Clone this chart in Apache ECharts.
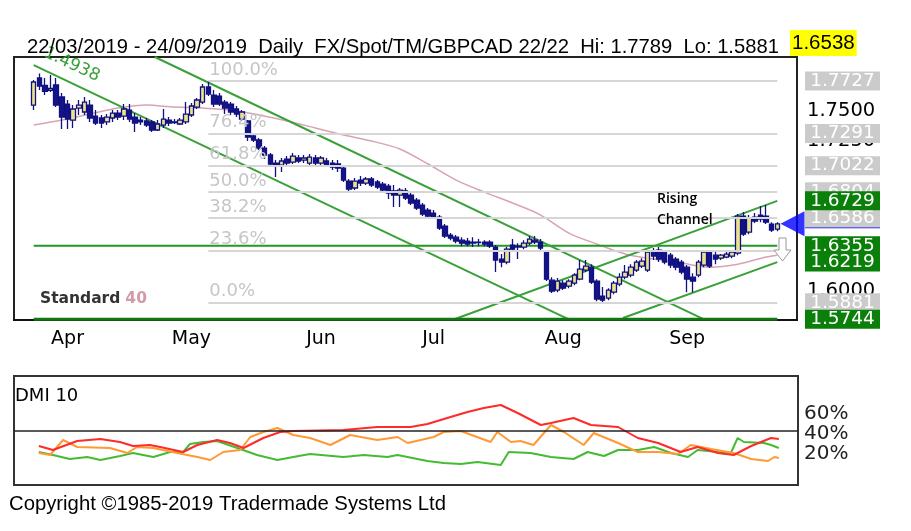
<!DOCTYPE html>
<html><head><meta charset="utf-8">
<script src="https://cdn.jsdelivr.net/npm/echarts@6/dist/echarts.min.js"></script>
<style>html,body{margin:0;padding:0;background:#fff}#c{width:911px;height:531px}</style>
</head><body><div id="c"></div><script>
// ---------- data ----------
const startDate = '2019-03-22', endDate = '2019-09-24';
const padBefore = 3, padAfter = 3;
const monthNames = ['Jan','Feb','Mar','Apr','May','Jun','Jul','Aug','Sep','Oct','Nov','Dec'];
// [open, close, low, high]
const ohlc = [
[1.7527,1.7719,1.7485,1.7735],[1.7752,1.7685,1.7652,1.7789],[1.7690,1.7640,1.7610,1.7752],[1.7650,1.7665,1.7635,1.7777],
[1.7694,1.7527,1.7510,1.7752],[1.7594,1.7427,1.7327,1.7627],[1.7535,1.7410,1.7327,1.7569],[1.7402,1.7494,1.7336,1.7527],
[1.7502,1.7527,1.7444,1.7569],[1.7469,1.7552,1.7444,1.7594],[1.7527,1.7419,1.7386,1.7569],[1.7435,1.7377,1.7360,1.7485],
[1.7419,1.7377,1.7336,1.7444],[1.7386,1.7427,1.7360,1.7452],[1.7419,1.7460,1.7386,1.7485],[1.7460,1.7427,1.7402,1.7485],
[1.7435,1.7494,1.7402,1.7535],[1.7485,1.7410,1.7386,1.7535],[1.7427,1.7377,1.7302,1.7460],[1.7402,1.7386,1.7360,1.7427],
[1.7394,1.7360,1.7344,1.7419],[1.7386,1.7319,1.7302,1.7402],[1.7319,1.7369,1.7311,1.7402],[1.7360,1.7410,1.7336,1.7494],
[1.7402,1.7377,1.7352,1.7427],[1.7386,1.7381,1.7369,1.7411],[1.7369,1.7402,1.7360,1.7419],[1.7386,1.7452,1.7369,1.7552],
[1.7444,1.7519,1.7427,1.7544],[1.7510,1.7569,1.7494,1.7585],[1.7552,1.7677,1.7535,1.7702],[1.7677,1.7619,1.7602,1.7727],
[1.7610,1.7535,1.7510,1.7652],[1.7602,1.7535,1.7519,1.7627],[1.7552,1.7502,1.7452,1.7569],[1.7535,1.7469,1.7444,1.7552],
[1.7494,1.7452,1.7427,1.7519],[1.7410,1.7469,1.7394,1.7485],[1.7394,1.7261,1.7227,1.7402],[1.7269,1.7236,1.7219,1.7294],
[1.7236,1.7169,1.7152,1.7252],[1.7169,1.7111,1.7077,1.7186],[1.7111,1.7036,1.7019,1.7127],[1.7044,1.7027,1.6927,1.7069],
[1.7027,1.7061,1.6969,1.7086],[1.7077,1.7044,1.7027,1.7102],[1.7052,1.7102,1.7036,1.7127],[1.7086,1.7061,1.7044,1.7111],
[1.7069,1.7086,1.7044,1.7111],[1.7044,1.7094,1.7019,1.7119],[1.7086,1.7044,1.7027,1.7111],[1.7044,1.7086,1.7019,1.7102],
[1.7061,1.7027,1.7011,1.7086],[1.7044,1.7011,1.6986,1.7069],[1.7036,1.7002,1.6969,1.7069],[1.7002,1.6902,1.6886,1.7019],
[1.6894,1.6827,1.6811,1.6911],[1.6836,1.6894,1.6819,1.6919],[1.6902,1.6877,1.6852,1.6936],[1.6877,1.6911,1.6861,1.6927],
[1.6911,1.6861,1.6844,1.6927],[1.6886,1.6844,1.6827,1.6902],[1.6869,1.6819,1.6802,1.6886],[1.6852,1.6794,1.6744,1.6869],
[1.6811,1.6777,1.6677,1.6861],[1.6777,1.6819,1.6677,1.6836],[1.6811,1.6752,1.6736,1.6836],[1.6777,1.6711,1.6694,1.6794],
[1.6736,1.6669,1.6652,1.6752],[1.6694,1.6619,1.6602,1.6711],[1.6652,1.6602,1.6586,1.6669],[1.6627,1.6594,1.6577,1.6652],
[1.6594,1.6502,1.6486,1.6611],[1.6519,1.6436,1.6419,1.6536],[1.6444,1.6419,1.6402,1.6461],[1.6427,1.6394,1.6377,1.6444],
[1.6402,1.6377,1.6352,1.6427],[1.6394,1.6369,1.6352,1.6419],[1.6377,1.6386,1.6344,1.6427],[1.6386,1.6382,1.6352,1.6411],
[1.6386,1.6369,1.6352,1.6402],[1.6386,1.6352,1.6336,1.6402],[1.6344,1.6236,1.6136,1.6361],[1.6244,1.6219,1.6177,1.6286],
[1.6219,1.6327,1.6202,1.6344],[1.6361,1.6327,1.6319,1.6411],[1.6352,1.6344,1.6244,1.6377],[1.6344,1.6377,1.6327,1.6402],
[1.6377,1.6411,1.6361,1.6436],[1.6402,1.6386,1.6369,1.6436],[1.6386,1.6336,1.6319,1.6411],[1.6302,1.6077,1.6061,1.6319],
[1.6069,1.5977,1.5961,1.6094],[1.5986,1.6061,1.5969,1.6086],[1.6044,1.6002,1.5986,1.6069],[1.6019,1.6061,1.6002,1.6077],
[1.6044,1.6111,1.6027,1.6127],[1.6077,1.6161,1.6069,1.6236],[1.6152,1.6186,1.6136,1.6236],[1.6177,1.6052,1.6036,1.6202],
[1.6061,1.5911,1.5894,1.6077],[1.5936,1.5902,1.5881,1.6011],[1.5919,1.5986,1.5902,1.6002],[1.5969,1.6044,1.5952,1.6061],
[1.6036,1.6094,1.6019,1.6127],[1.6094,1.6136,1.6077,1.6194],[1.6111,1.6177,1.6094,1.6202],[1.6152,1.6219,1.6136,1.6236],
[1.6186,1.6227,1.6169,1.6252],[1.6152,1.6302,1.6136,1.6319],[1.6302,1.6269,1.6236,1.6336],[1.6319,1.6244,1.6219,1.6344],
[1.6302,1.6219,1.6202,1.6319],[1.6277,1.6194,1.6169,1.6294],[1.6244,1.6177,1.6152,1.6261],[1.6219,1.6136,1.6119,1.6236],
[1.6177,1.6077,1.5969,1.6194],[1.6094,1.6061,1.5969,1.6127],[1.6111,1.6219,1.6094,1.6236],[1.6194,1.6302,1.6177,1.6319],
[1.6302,1.6186,1.6169,1.6319],[1.6277,1.6244,1.6202,1.6311],[1.6252,1.6277,1.6236,1.6286],[1.6261,1.6286,1.6252,1.6311],
[1.6269,1.6302,1.6252,1.6319],[1.6294,1.6602,1.6277,1.6619],[1.6602,1.6452,1.6436,1.6636],[1.6469,1.6586,1.6452,1.6611],
[1.6594,1.6561,1.6544,1.6627],[1.6611,1.6577,1.6552,1.6686],[1.6602,1.6552,1.6536,1.6694],[1.6536,1.6486,1.6469,1.6552],
[1.6494,1.6538,1.6477,1.6552]
];
// 40-day moving average, read at sampled bars [barIndex, value]
const ma40 = [[0,1.7360],[5,1.7402],[10,1.7452],[15,1.7502],[20,1.7527],[25,1.7510],[30,1.7502],[35,1.7485],
[40,1.7444],[45,1.7394],[50,1.7336],[55,1.7277],[60,1.7227],[65,1.7161],[70,1.7036],[75,1.6902],[80,1.6802],
[85,1.6711],[90,1.6611],[95,1.6461],[100,1.6369],[105,1.6286],[110,1.6244],[115,1.6211],[120,1.6177],
[125,1.6202],[130,1.6262],[132,1.6277]];
const fibLevels = [1.7727,1.7291,1.7022,1.6804,1.6586,1.6317,1.5881];
const fibNames = ['100.0%','76.4%','61.8%','50.0%','38.2%','23.6%','0.0%'];
const fibStart = 31, fibEnd = 132;
const descUpper = [[21.5,1.7927],[118.8,1.5746]];
const descLower = [[0,1.7860],[94.9,1.5745]];
const riseUpper = [[74.8,1.5745],[132,1.6729]];
const riseLower = [[104.6,1.5754],[132,1.6219]];
const supportLine = [[0,1.6355],[132,1.6355]];
const baseLine = [[0,1.5744],[132,1.5744]];
const descLabel = '1.4938';
const priceTicks = [1.6, 1.725, 1.75];
const greyTags = [1.7727,1.7291,1.7022,1.6804,1.6586,1.5881];
const greenTags = [1.6729,1.6355,1.6219,1.5744];
const lastPrice = 1.6538;
const dmiRed = [[0.9,25],[3.4,21],[7.7,30],[11.8,32],[15.3,29],[17.6,25],[20.6,26],[22.4,24],[26.5,19],[29,26],
[32.5,31],[34.8,28],[37.2,23],[40.7,33],[43.7,39],[46,40],[54.9,41],[60.9,44],[66.8,44],[69.8,47],[73.9,54],
[75.7,57],[76.9,59],[79.8,63],[82.8,66],[85.8,58],[89.9,46],[91.7,48],[95.7,53],[98.8,46],[103.6,44],[107.1,33],
[110.7,28],[114.7,19],[117.7,24],[121.3,18],[124.1,16],[127.2,25],[130.7,33],[132.1,32]];
const dmiOrange = [[0.9,18],[2.9,16],[5.2,31],[7.7,24],[13.5,23],[16.6,18],[18.3,24],[21.2,23],[25.4,18],[29,14],
[31.3,11],[33.6,19],[36.6,21],[38.4,34],[40.7,39],[43.2,43],[46,36],[49,33],[52.6,26],[56.1,36],[60.9,31],[64.5,34],
[66.3,28],[70.9,34],[72.7,39],[75.7,40],[81,29],[82.2,39],[84.6,29],[86.3,30],[88.6,26],[91.7,46],[94,39],[97.5,26],
[99.3,38],[103.6,28],[107.1,19],[110.7,19],[114.2,17],[116.5,26],[120.1,22],[124.1,18],[127.2,12],[130.2,10],
[131.3,14],[132.1,13]];
const dmiGreen = [[0.9,19],[3.4,16],[6.4,12],[9.5,14],[11.8,11],[15.3,15],[17.6,18],[21.2,14],[24.2,19],[26.5,19],
[27.7,27],[30.1,29],[32.5,30],[36.1,23],[39.6,16],[43.2,11],[46,14],[49,17],[54.9,14],[58.5,16],[62.7,14],[64.5,16],
[69.8,10],[72.7,8],[75.7,7],[78.7,9],[82.8,6],[84.2,19],[88.1,18],[91.7,14],[95.7,12],[98.2,19],[101.1,15],[103.6,21],
[107.1,21],[110,24],[113,18],[116,14],[117.7,21],[121.3,19],[123.6,18],[124.8,33],[125.9,29],[129.5,28],[130.7,26],
[132.1,23]];
const dmiTicks = [20, 40, 60];
const dmiLevel = 40;
const titleText = '22/03/2019 - 24/09/2019  Daily  FX/Spot/TM/GBPCAD 22/22  Hi: 1.7789  Lo: 1.5881';
const copyright = 'Copyright \u00a91985-2019 Tradermade Systems Ltd';

// ---------- build ----------
const dates = [];
for (let d = new Date(startDate + 'T00:00:00Z'); d <= new Date(endDate + 'T00:00:00Z'); d.setUTCDate(d.getUTCDate() + 1)) {
  const w = d.getUTCDay(); if (w !== 0 && w !== 6) dates.push(new Date(d));
}
const cats = [], monthStart = [];
for (let k = 0; k < padBefore; k++) { cats.push('pre' + k); monthStart.push(false); }
dates.forEach((d, i) => {
  cats.push(d.toISOString().slice(0, 10));
  monthStart.push(i > 0 && d.getUTCMonth() !== dates[i - 1].getUTCMonth());
});
for (let k = 0; k < padAfter; k++) { cats.push('post' + k); monthStart.push(false); }
const candleData = [];
for (let k = 0; k < padBefore; k++) candleData.push('-');
ohlc.forEach(r => candleData.push(r));
for (let k = 0; k < padAfter; k++) candleData.push('-');
const xMin = -padBefore - 0.5, xMax = ohlc.length - 1 + padAfter + 0.5;

const yMin = 1.5737, yMax = 1.7927;
const isIn = (arr, v) => arr.some(a => Math.abs(a - v) < 1e-7);
const FONT = 'DejaVu Sans';
const green = '#3aa03a';

const chart = echarts.init(document.getElementById('c'), null, {renderer: 'canvas'});
const trend = (data, color, w) => ({
  type: 'line', xAxisIndex: 1, yAxisIndex: 0, data, symbol: 'none', silent: true,
  lineStyle: {color: color || green, width: w || 2}, clip: true, animation: false, z: 3
});
chart.setOption({
  animation: false,
  backgroundColor: '#fff',
  title: [
    {text: titleText, left: 22, top: 32, textStyle: {fontFamily: 'Liberation Sans', fontSize: 20.2, fontWeight: 'normal', color: '#000'}},
    {text: lastPrice.toFixed(4), left: 790, top: 30, backgroundColor: '#ffff00', padding: [3, 2, 2, 2],
     textStyle: {fontFamily: 'Liberation Sans', fontSize: 20.5, fontWeight: 'normal', color: '#000'}},
    {text: copyright, left: 4, top: 489, textStyle: {fontFamily: 'Liberation Sans', fontSize: 20.3, fontWeight: 'normal', color: '#000'}},
    {text: 'DMI 10', left: 10, top: 382, textStyle: {fontFamily: FONT, fontSize: 18, fontWeight: 'normal', color: '#000'}},
    {text: 'Rising\nChannel', left: 652, top: 184, textStyle: {fontFamily: 'Open Sans', fontSize: 14, fontWeight: 600, color: '#000', lineHeight: 21}},
    {text: '{a|Standard} {b|40}', left: 35, top: 285, textStyle: {rich: {
      a: {fontFamily: FONT, fontSize: 15.5, fontWeight: 'bold', color: '#333'},
      b: {fontFamily: FONT, fontSize: 15.5, color: '#d49aa8'}}}}
  ],
  graphic: [
    {type: 'text', x: 45, y: 52, rotation: -0.44, silent: true,
     style: {text: descLabel, fill: green, font: '17px "DejaVu Sans"', textVerticalAlign: 'middle'}},
    {type: 'polygon', silent: true, z: 20,
     shape: {points: [[779,238],[786,238],[786,250],[791,250],[782.5,261],[774,250],[779,250]]},
     style: {fill: '#fff', stroke: '#999', lineWidth: 1}}
  ],
  grid: [
    {left: 14, right: 114, top: 57, height: 263, show: true, borderColor: '#222', borderWidth: 2, backgroundColor: 'transparent'},
    {left: 14, right: 113, top: 376, height: 109, show: true, borderColor: '#333', borderWidth: 2, backgroundColor: 'transparent'}
  ],
  xAxis: [
    {type: 'category', gridIndex: 0, data: cats, boundaryGap: true,
     axisLine: {lineStyle: {color: '#111', width: 2}},
     axisTick: {alignWithLabel: true, interval: (i) => monthStart[i], length: 5, lineStyle: {color: '#111', width: 1.5}},
     axisLabel: {interval: (i) => monthStart[i], formatter: (v) => monthNames[new Date(v + 'T00:00:00Z').getUTCMonth()],
       fontFamily: FONT, fontSize: 19, color: '#000', margin: 10},
     splitLine: {show: false}},
    {type: 'value', gridIndex: 0, min: xMin, max: xMax, show: false},
    {type: 'value', gridIndex: 1, min: xMin, max: xMax, show: false}
  ],
  yAxis: [
    {type: 'value', gridIndex: 0, position: 'right', min: yMin, max: yMax, scale: true,
     axisLine: {show: false}, axisTick: {show: false}, splitLine: {show: false},
     axisLabel: {customValues: priceTicks, formatter: (v) => '{p|' + v.toFixed(4) + '}', margin: 10,
       rich: {p: {fontFamily: FONT, fontSize: 19.5, color: '#000', padding: [5, 0, 0, 0]}}}},
    {type: 'value', gridIndex: 0, position: 'right', min: yMin, max: yMax, scale: true,
     axisLine: {show: false}, axisTick: {show: false}, splitLine: {show: false},
     axisLabel: {customValues: [lastPrice].concat(greyTags, greenTags), margin: 8,
       formatter: (v) => {
         const t = v.toFixed(4);
         if (isIn(greenTags, v)) return '{gr|' + t + '}';
         if (Math.abs(v - lastPrice) < 1e-7) return '{bl|}';
         return '{gy|' + t + '}';
       },
       rich: {
         gy: {backgroundColor: '#cbcbcb', color: '#fff', fontFamily: FONT, fontSize: 18.5, width: 75, height: 19, lineHeight: 19, align: 'center'},
         gr: {backgroundColor: '#0a800a', color: '#fff', fontFamily: FONT, fontSize: 18.5, width: 75, height: 19, lineHeight: 19, align: 'center'},
         bl: {backgroundColor: '#0000ff', width: 75, height: 9, lineHeight: 9}
       }}},
    {type: 'value', gridIndex: 1, position: 'right', min: -14, max: 95,
     axisLine: {show: false}, axisTick: {show: false}, splitLine: {show: false},
     axisLabel: {customValues: dmiTicks, formatter: (v) => '{d|' + v + '%}', margin: 6,
       rich: {d: {fontFamily: FONT, fontSize: 20, color: '#222', padding: [6, 0, 0, 0]}}}}
  ],
  series: [
    Object.assign(trend(supportLine, '#229922', 2), {
      markLine: {symbol: 'none', silent: true, animation: false,
        lineStyle: {color: '#d6d6d6', width: 2, type: 'solid'},
        label: {position: 'insideStartTop', formatter: '{b}', color: '#c6c6c6', fontFamily: FONT, fontSize: 18, distance: [1, 2]},
        data: fibLevels.map((l, k) => [{coord: [fibStart, l], name: fibNames[k]}, {coord: [fibEnd, l]}])}
    }),
    {type: 'line', xAxisIndex: 1, yAxisIndex: 0, data: ma40, symbol: 'none', silent: true, smooth: 0.3,
     lineStyle: {color: '#d8a3b3', width: 1.5}, z: 2},
    {type: 'candlestick', xAxisIndex: 0, yAxisIndex: 0, data: candleData, barWidth: 5, silent: true, z: 4,
     itemStyle: {color: '#ece28e', color0: '#141488', borderColor: '#101080', borderColor0: '#101080', borderWidth: 1.3}},
    trend(descUpper), trend(descLower), trend(riseUpper), trend(riseLower),
    trend(baseLine, '#117711', 3),
    {type: 'scatter', xAxisIndex: 1, yAxisIndex: 0, data: [[134.7, lastPrice]], symbol: 'triangle', symbolRotate: 90,
     symbolSize: [25, 24], itemStyle: {color: '#0000ff'}, clip: false, silent: true, z: 10},
    {type: 'line', xAxisIndex: 2, yAxisIndex: 2, data: dmiGreen, symbol: 'none', silent: true, lineStyle: {color: '#44bb33', width: 2},
     markLine: {symbol: 'none', silent: true, label: {show: false}, lineStyle: {color: '#222', width: 1.5, type: 'solid'}, data: [{yAxis: dmiLevel}]}},
    {type: 'line', xAxisIndex: 2, yAxisIndex: 2, data: dmiOrange, symbol: 'none', silent: true, lineStyle: {color: '#ff9a33', width: 2}},
    {type: 'line', xAxisIndex: 2, yAxisIndex: 2, data: dmiRed, symbol: 'none', silent: true, lineStyle: {color: '#ff2a2a', width: 2}}
  ]
});
</script></body></html>
